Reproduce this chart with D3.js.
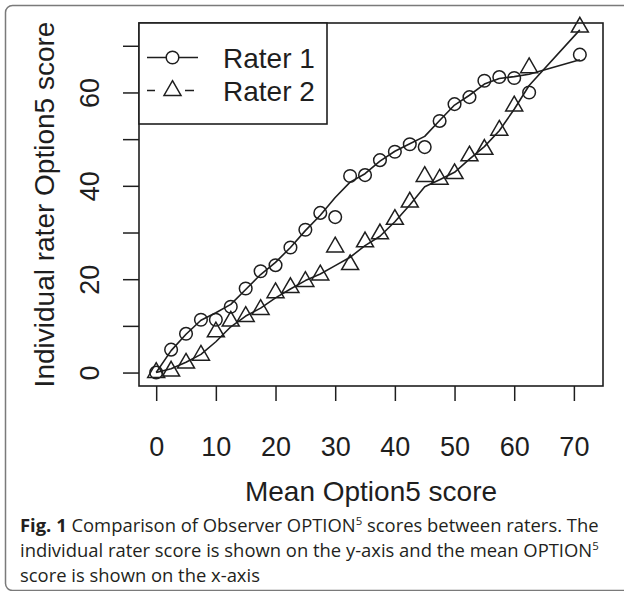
<!DOCTYPE html>
<html>
<head>
<meta charset="utf-8">
<script src="https://cdn.jsdelivr.net/npm/d3@7"></script>
<style>
  body { margin: 0; background: #fff; }
  svg { display: block; }
</style>
</head>
<body>
<svg id="chart"></svg>
<script>

// mean of the two raters (x) and each rater's score (y)
var meanScore = [0, 2.5, 5, 7.5, 10, 12.5, 15, 17.5, 20, 22.5, 25, 27.5, 30, 32.5, 35,
                 37.5, 40, 42.5, 45, 47.5, 50, 52.5, 55, 57.5, 60, 62.5, 71];
var rater1 = [0, 4.9, 8.3, 11.3, 11.3, 14.1, 18.0, 21.7, 23.0, 26.8, 30.6, 34.2, 33.3, 42.1, 42.3,
              45.5, 47.3, 48.9, 48.3, 53.9, 57.5, 59.0, 62.5, 63.3, 63.1, 60.0, 68.1];
var rater2 = [0, 0.3, 2.0, 3.7, 8.7, 11.0, 12.0, 13.5, 17.1, 18.2, 19.5, 20.9, 26.9, 23.1, 28.0,
              29.7, 32.8, 36.5, 42.0, 41.4, 42.6, 46.4, 47.8, 51.9, 57.1, 65.3, 74.0];
// smoothed (lowess) lines
var smooth1 = [0, 4.7, 8.2, 11.2, 12.8, 14.6, 17.8, 21.0, 23.6, 26.8, 30.4, 33.7, 37.5, 40.8, 42.6,
               45.3, 47.4, 49.0, 50.6, 54.0, 57.3, 59.4, 61.8, 63.0, 63.4, 63.9, 67.0];
var smooth2 = [0, 0.8, 2.2, 3.9, 6.6, 9.8, 12.1, 13.8, 16.0, 17.9, 19.7, 21.1, 22.9, 24.7, 27.2,
               29.2, 32.3, 35.9, 39.8, 41.3, 42.9, 45.7, 48.4, 51.8, 56.4, 61.5, 73.4];

var xTicks = [0, 10, 20, 30, 40, 50, 60, 70];
var yTicks = [0, 10, 20, 30, 40, 50, 60, 70];
var yTickLabels = [0, 20, 40, 60];
var seriesNames = ['Rater 1', 'Rater 2'];

document.addEventListener("DOMContentLoaded", function () {
    drawChart();
});

function drawChart() {
    var svgWidth = 624, svgHeight = 591;
    var plot = { left: 139, right: 603, top: 23, bottom: 386 };
    var ink = '#1e1e1e';

    var svg = d3.select('#chart')
        .attr('width', svgWidth)
        .attr('height', svgHeight);

    // outer figure frame
    svg.append('rect')
        .attr('x', 5.5).attr('y', 5.5)
        .attr('width', 640).attr('height', 585)
        .attr('rx', 7)
        .attr('fill', 'none')
        .attr('stroke', '#7a7a7a')
        .attr('stroke-width', 1.5);

    var x = d3.scaleLinear().domain([-2.88, 74.88]).range([plot.left, plot.right]);
    var y = d3.scaleLinear().domain([-2.88, 74.88]).range([plot.bottom, plot.top]);

    // x axis: ticks + labels
    var xAxis = d3.axisBottom(x)
        .tickValues(xTicks)
        .tickSize(15)
        .tickFormat(d3.format('d'));
    var gx = svg.append('g')
        .attr('transform', 'translate(0,' + plot.bottom + ')')
        .call(xAxis);
    gx.select('.domain').remove();
    gx.selectAll('line').attr('stroke', ink).attr('stroke-width', 1.5);
    gx.selectAll('text')
        .attr('fill', ink)
        .attr('font-family', '"Liberation Sans", Arial, sans-serif')
        .attr('font-size', 27)
        .attr('dy', null)
        .attr('y', 70);

    // y axis: ticks every 10, labels every 20 (rotated)
    var yAxis = d3.axisLeft(y)
        .tickValues(yTicks)
        .tickSize(16)
        .tickFormat(function (d) { return yTickLabels.indexOf(d) >= 0 ? d : ''; });
    var gy = svg.append('g')
        .attr('transform', 'translate(' + plot.left + ',0)')
        .call(yAxis);
    gy.select('.domain').remove();
    gy.selectAll('line').attr('stroke', ink).attr('stroke-width', 1.5);
    gy.selectAll('text')
        .attr('fill', ink)
        .attr('font-family', '"Liberation Sans", Arial, sans-serif')
        .attr('font-size', 27)
        .attr('x', null).attr('dy', null)
        .attr('text-anchor', 'middle')
        .attr('transform', 'translate(-40,0) rotate(-90)');

    // axis titles
    svg.append('text')
        .attr('x', (plot.left + plot.right) / 2)
        .attr('y', 501)
        .attr('text-anchor', 'middle')
        .attr('fill', ink)
        .attr('font-family', '"Liberation Sans", Arial, sans-serif')
        .attr('font-size', 28)
        .text('Mean Option5 score');

    svg.append('text')
        .attr('transform', 'translate(54,' + (plot.top + plot.bottom) / 2 + ') rotate(-90)')
        .attr('text-anchor', 'middle')
        .attr('fill', ink)
        .attr('font-family', '"Liberation Sans", Arial, sans-serif')
        .attr('font-size', 28)
        .text('Individual rater Option5 score');

    // smoothed lines
    var line = d3.line()
        .x(function (d) { return x(d[0]); })
        .y(function (d) { return y(d[1]); });

    var g = svg.append('g');
    [smooth1, smooth2].forEach(function (s) {
        g.append('path')
            .datum(d3.zip(meanScore, s))
            .attr('fill', 'none')
            .attr('stroke', ink)
            .attr('stroke-width', 1.6)
            .attr('stroke-linejoin', 'round')
            .attr('d', line);
    });

    var circle = d3.symbol(d3.symbolCircle, 125);
    var tri = d3.symbol(d3.symbolTriangle, 125);

    g.selectAll('.p1')
        .data(d3.zip(meanScore, rater1))
        .enter().append('path')
        .attr('class', 'p1')
        .attr('transform', function (d) { return 'translate(' + x(d[0]) + ',' + y(d[1]) + ')'; })
        .attr('d', circle)
        .attr('fill', 'none')
        .attr('stroke', ink)
        .attr('stroke-width', 1.5);

    g.selectAll('.p2')
        .data(d3.zip(meanScore, rater2))
        .enter().append('path')
        .attr('class', 'p2')
        .attr('transform', function (d) { return 'translate(' + x(d[0]) + ',' + y(d[1]) + ')'; })
        .attr('d', tri)
        .attr('fill', 'none')
        .attr('stroke', ink)
        .attr('stroke-width', 1.5);

    // plot box
    svg.append('rect')
        .attr('x', plot.left).attr('y', plot.top)
        .attr('width', plot.right - plot.left)
        .attr('height', plot.bottom - plot.top)
        .attr('fill', 'none')
        .attr('stroke', ink)
        .attr('stroke-width', 1.6);

    // legend
    var legend = svg.append('g');
    legend.append('rect')
        .attr('x', plot.left).attr('y', plot.top)
        .attr('width', 188).attr('height', 101)
        .attr('fill', '#fff')
        .attr('stroke', ink)
        .attr('stroke-width', 1.6);

    var rows = [
        { name: seriesNames[0], sym: circle, dash: null, cy: 57.5 },
        { name: seriesNames[1], sym: tri, dash: '8 30 9 100', cy: 90.5 }
    ];
    rows.forEach(function (r) {
        legend.append('line')
            .attr('x1', 147).attr('x2', 198)
            .attr('y1', r.cy).attr('y2', r.cy)
            .attr('stroke', ink)
            .attr('stroke-width', 1.5)
            .attr('stroke-dasharray', r.dash);
        legend.append('path')
            .attr('transform', 'translate(172.5,' + r.cy + ')')
            .attr('d', r.sym)
            .attr('fill', r.dash ? 'none' : '#fff')
            .attr('stroke', ink)
            .attr('stroke-width', 1.5);
        legend.append('text')
            .attr('x', 223).attr('y', r.cy + 10)
            .attr('fill', ink)
            .attr('font-family', '"Liberation Sans", Arial, sans-serif')
            .attr('font-size', 28)
            .text(r.name);
    });

    // caption: font size chosen so the first line fills the column width
    var cap = svg.append('g')
        .attr('font-family', '"Open Sans", "Noto Sans", sans-serif')
        .attr('font-size', 20)
        .attr('fill', '#231f20');

    var l1 = cap.append('text').attr('x', 20).attr('y', 532);
    l1.append('tspan').attr('font-weight', 'bold').text('Fig. 1');
    l1.append('tspan').text(' Comparison of Observer OPTION');
    var s1 = l1.append('tspan').attr('class', 'sup').text('5');
    l1.append('tspan').attr('class', 'back').text(' scores between raters. The');

    var l2 = cap.append('text').attr('x', 20).attr('y', 557);
    l2.append('tspan').text('individual rater score is shown on the y-axis and the mean OPTION');
    l2.append('tspan').attr('class', 'sup').text('5');

    cap.append('text').attr('x', 20).attr('y', 582)
        .text('score is shown on the x-axis');

    var fs = 20 * 583 / l1.node().getComputedTextLength();
    fs = Math.min(fs, 20);
    cap.attr('font-size', fs);
    cap.selectAll('.sup').attr('font-size', fs * 0.62).attr('dy', -fs * 0.38);
    cap.selectAll('.back').attr('dy', fs * 0.38);
}
</script>
</body>
</html>
